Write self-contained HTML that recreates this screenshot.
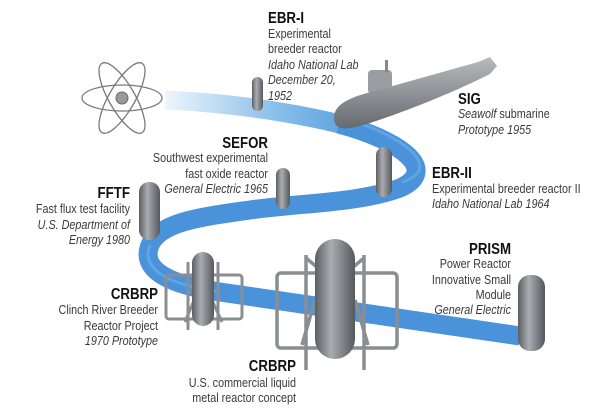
<!DOCTYPE html>
<html><head><style>
html,body{margin:0;padding:0;background:#fff;}
svg{display:block;}
text{font-family:"Liberation Sans",sans-serif;fill:#3a3a3a;font-size:13px;}
.h{font-weight:bold;fill:#111;font-size:16px;}
.i{font-style:italic;}
</style></head><body>
<svg width="600" height="409" viewBox="0 0 600 409" xmlns="http://www.w3.org/2000/svg">
<defs>
<linearGradient id="rib" x1="165" y1="0" x2="345" y2="0" gradientUnits="userSpaceOnUse">
<stop offset="0" stop-color="#eef5fc"/><stop offset="0.6" stop-color="#8cc0ea"/><stop offset="1" stop-color="#5fa3e0"/>
</linearGradient>
<linearGradient id="cap" x1="0" y1="0" x2="1" y2="0">
<stop offset="0" stop-color="#5b5e62"/><stop offset="0.4" stop-color="#a9acb0"/><stop offset="1" stop-color="#55585c"/>
</linearGradient>
<linearGradient id="sub" x1="0" y1="0" x2="0" y2="1">
<stop offset="0" stop-color="#b8bbbe"/><stop offset="1" stop-color="#66696e"/>
</linearGradient>
</defs>
<!-- ribbon -->
<path d="M165,100 C230,103 290,112 340,124" fill="none" stroke="url(#rib)" stroke-width="19"/>
<path d="M339,124 C400,140 440,170 400,188 C360,203 300,203 250,210 C200,217 160,222 150,245 C140,270 170,285 220,292 C290,302 400,318 520,336"
 fill="none" stroke="#4a93da" stroke-width="19"/>
<path d="M339,117 C400,133 447,168 402,182 M150,245 C140,270 170,285 220,292" fill="none" stroke="#6fb0ea" stroke-width="3" opacity="0.6"/>
<!-- atom -->
<g fill="none" stroke="#7a7a7a" stroke-width="1.3">
<ellipse cx="122" cy="98" rx="40" ry="13"/>
<ellipse cx="122" cy="98" rx="40" ry="13" transform="rotate(60 122 98)"/>
<ellipse cx="122" cy="98" rx="40" ry="13" transform="rotate(-60 122 98)"/>
</g>
<circle cx="122" cy="98" r="6" fill="#9a9a9a" stroke="#666"/>
<!-- EBR-I capsule -->
<rect x="252" y="77" width="11" height="34" rx="5.5" fill="url(#cap)"/>
<!-- submarine -->
<rect x="368" y="70" width="24" height="24" rx="4" fill="#9a9da1"/>
<rect x="385" y="60" width="3" height="12" fill="#888"/>
<path d="M334,118 C334,104 350,97 375,91 L478,62 L490,57 L497,66 L490,74 C450,94 400,114 360,126 C342,131 334,128 334,118 Z" fill="url(#sub)"/>
<!-- SEFOR capsule -->
<rect x="276" y="168" width="14" height="41" rx="7" fill="url(#cap)"/>
<!-- EBR-II capsule -->
<rect x="376" y="147" width="16" height="50" rx="8" fill="url(#cap)"/>
<!-- FFTF capsule -->
<rect x="139" y="182" width="21" height="58" rx="10" fill="url(#cap)"/>
<!-- PRISM capsule -->
<rect x="518" y="275" width="27" height="76" rx="12" fill="url(#cap)"/>
<!-- left CRBRP reactor -->
<g fill="none" stroke="#8a8d91" stroke-width="3">
<rect x="166" y="275" width="76" height="44" rx="3"/>
<path d="M188,262 L188,330 M218,262 L218,330 M195,298 L185,322 M211,298 L222,322"/>
</g>
<rect x="192" y="252" width="22" height="74" rx="11" fill="url(#cap)"/>
<!-- big CRBRP reactor -->
<g fill="none" stroke="#8a8d91" stroke-width="3.5">
<rect x="277" y="273" width="120" height="75" rx="4"/>
<path d="M306,255 L306,370 M364,255 L364,370 M315,300 L302,345 M355,300 L368,345 M306,258 L318,268 M364,258 L352,268"/>
</g>
<rect x="315" y="239" width="40" height="120" rx="20" fill="url(#cap)"/>
<!-- labels -->
<g transform="scale(0.83 1)">
<text x="322.9" y="23" class="h">EBR-I</text>
<text x="322.9" y="38">Experimental</text>
<text x="322.9" y="53">breeder reactor</text>
<text x="322.9" y="69" class="i">Idaho National Lab</text>
<text x="322.9" y="84" class="i">December 20,</text>
<text x="322.9" y="100" class="i">1952</text>

<text x="551.8" y="104" class="h">SIG</text>
<text x="551.8" y="118"><tspan class="i">Seawolf</tspan> submarine</text>
<text x="551.8" y="134" class="i">Prototype 1955</text>

<text x="520.5" y="178" class="h">EBR-II</text>
<text x="520.5" y="193">Experimental breeder reactor II</text>
<text x="520.5" y="208" class="i">Idaho National Lab 1964</text>

<g text-anchor="end">
<text x="322.9" y="148" class="h">SEFOR</text>
<text x="322.9" y="162">Southwest experimental</text>
<text x="322.9" y="178">fast oxide reactor</text>
<text x="322.9" y="193" class="i">General Electric 1965</text>

<text x="156.6" y="198" class="h">FFTF</text>
<text x="156.6" y="213">Fast flux test facility</text>
<text x="156.6" y="229" class="i">U.S. Department of</text>
<text x="156.6" y="244" class="i">Energy 1980</text>

<text x="615.7" y="254" class="h">PRISM</text>
<text x="615.7" y="268">Power Reactor</text>
<text x="615.7" y="284">Innovative Small</text>
<text x="615.7" y="299">Module</text>
<text x="615.7" y="314" class="i">General Electric</text>

<text x="190.4" y="299" class="h">CRBRP</text>
<text x="190.4" y="314">Clinch River Breeder</text>
<text x="190.4" y="330">Reactor Project</text>
<text x="190.4" y="345" class="i">1970 Prototype</text>

<text x="356.6" y="371" class="h">CRBRP</text>
<text x="356.6" y="387">U.S. commercial liquid</text>
<text x="356.6" y="402">metal reactor concept</text>
</g>
</g>
</svg>
</body></html>
